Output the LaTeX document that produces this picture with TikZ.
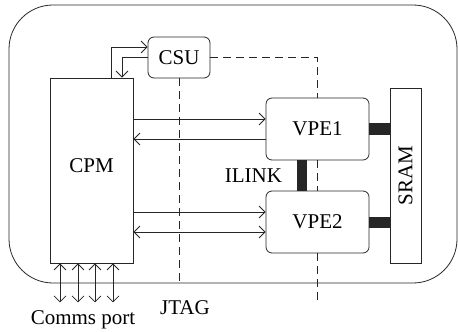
\documentclass[tikz,border=0pt]{standalone}
\usepackage{fontspec}
\setmainfont{Liberation Serif}
\usetikzlibrary{positioning, arrows.meta}

\tikzset{
    unit/.style={draw=black!85, rounded corners=3pt, minimum width=51.5pt, minimum height=31pt, inner sep=0pt},
    plainbox/.style={draw=black!85, inner sep=0pt},
    sig/.style={draw=black!85, -{Straight Barb[length=3pt, width=6pt]}},
    bisig/.style={draw=black!85, {Straight Barb[length=3pt, width=6pt]}-{Straight Barb[length=3pt, width=6pt]}},
    scan/.style={draw=black!85, dash pattern=on 4pt off 2.5pt},
    bus/.style={draw=black!85, line width=5pt},
    lbl/.style={font=\fontsize{10.5}{12}\selectfont, inner sep=1pt}
}

\begin{document}
\begin{tikzpicture}[x=0.5pt, y=-0.5pt, font=\fontsize{10.5}{12}\selectfont]

    \useasboundingbox (0,0) rectangle (458,331);

    % =====================================================
    % BOARD OUTLINE
    % =====================================================
    \node[draw=black!85, rounded corners=22pt, minimum width=224pt, minimum height=139pt, inner sep=0pt] (board) at (233,144) {};

    % =====================================================
    % BLOCKS
    % =====================================================
    \node[unit, minimum width=31pt, minimum height=20.5pt] (CSU) at (179,57.5) {CSU};
    \node[plainbox, minimum width=41.5pt, minimum height=92.5pt] (CPM) at (91.5,170.5) {};
    \node[lbl] at (91.5,166) {CPM};
    \node[unit] (VPE1) at (317.5,129) {VPE1};
    \node[unit] (VPE2) at (317.5,222) {VPE2};
    \node[plainbox, minimum width=15.5pt, minimum height=87.5pt] (SRAM) at (405.5,175.5) {};
    \node[lbl, rotate=90] at (SRAM.center) {SRAM};

    % =====================================================
    % CPM <-> CSU
    % =====================================================
    \draw[sig] (CPM.north -| 111,0) |- ([yshift=5.25pt]CSU.west);
    \draw[sig] (CSU.west) -| (CPM.north -| 122,0);

    % =====================================================
    % SCAN CHAIN (dashed)
    % =====================================================
    \coordinate (scanend) at (317.5,300);
    \draw[scan] (CSU.south) -- (CSU.south |- board.south);
    \node[lbl] (JTAG) at (185,308) {JTAG};
    \draw[scan] (CSU.east) -| (VPE1.north);
    \draw[scan] (VPE1.south) -- (VPE2.north);
    \draw[scan] (VPE2.south) -- (scanend);

    % =====================================================
    % CPM <-> VPEs
    % =====================================================
    \coordinate (a1) at ([yshift=5pt]VPE1.west);
    \coordinate (b1) at ([yshift=-5pt]VPE1.west);
    \coordinate (a2) at ([yshift=5pt]VPE2.west);
    \coordinate (b2) at ([yshift=-5pt]VPE2.west);
    \draw[sig] (a1 -| CPM.east) -- (a1);
    \draw[sig] (b1) -- (b1 -| CPM.east);
    \draw[sig] (a2 -| CPM.east) -- (a2);
    \draw[bisig] (b2 -| CPM.east) -- (b2);

    % =====================================================
    % MEMORY AND INTER-VPE LINKS
    % =====================================================
    \draw[bus, line width=5.5pt] (VPE1.east) -- (VPE1.east -| SRAM.west);
    \draw[bus, line width=5.5pt] (VPE2.east) -- (VPE2.east -| SRAM.west);
    \draw[bus] ([xshift=-7.75pt]VPE1.south) -- ([xshift=-7.75pt]VPE2.north) node[lbl, midway, left=6.5pt] (ILINK) {ILINK};

    % =====================================================
    % COMMS PORT
    % =====================================================
    \foreach \x in {60,78,95,113} {
        \draw[bisig] (CPM.south -| \x,0) -- ++(0,39);
    }
    \node[lbl] (comms) at (83,320) {Comms port};

\end{tikzpicture}
\end{document}
